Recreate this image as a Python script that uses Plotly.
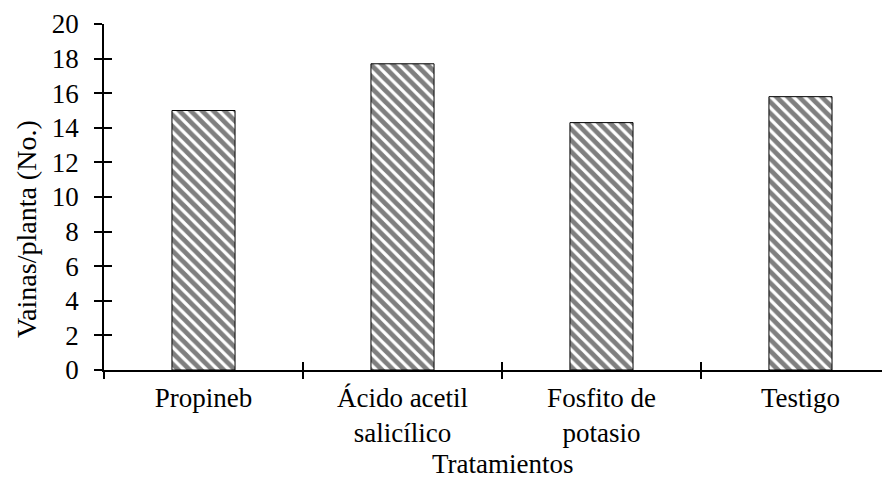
import plotly.graph_objects as go

categories = ["Propineb", "Ácido acetil<br>salicílico", "Fosfito de<br>potasio", "Testigo"]
values = [15.0, 17.7, 14.3, 15.8]
y_ticks = [0, 2, 4, 6, 8, 10, 12, 14, 16, 18, 20]
x_boundaries = [-0.5, 0.5, 1.5, 2.5]

FONT = "Liberation Serif"
FS = 27

# page body has an 8px margin; plot area placed accordingly
L, T, B = 96, 16, 122
PW = 890 - L
PH = 484 - T - B

def px_x(x):
    return (x - 8 - L) / PW

def px_y(y):
    return (484 - B - (y - 8)) / PH

fig = go.Figure()
fig.add_trace(go.Bar(
    x=categories, y=values, width=0.317,
    marker=dict(color="white",
                line=dict(color="black", width=1),
                pattern=dict(shape="\\", fgcolor="black", bgcolor="white", size=8, solidity=0.6)),
    showlegend=False, hoverinfo="skip",
))
fig.add_trace(go.Scatter(x=[], y=[], xaxis="x2", yaxis="y2", showlegend=False))

fig.update_layout(
    width=890, height=484,
    margin=dict(l=L, r=0, t=T, b=B),
    paper_bgcolor="white", plot_bgcolor="white",
    font=dict(family=FONT, size=FS, color="black"),
    xaxis=dict(
        type="category", range=[-0.5, 3.49], tickson="boundaries",
        ticks="outside", ticklen=7, tickwidth=1.5, tickcolor="black",
        showline=True, linecolor="black", linewidth=1.5,
        showgrid=False, zeroline=False, ticklabelstandoff=3,
        tickfont=dict(family=FONT, size=FS, color="black"),
    ),
    yaxis=dict(
        range=[0, 20], tickvals=y_ticks,
        ticks="outside", ticklen=8, tickwidth=1.5, tickcolor="black",
        showline=True, linecolor="black", linewidth=1.5,
        showgrid=False, zeroline=False, ticklabelstandoff=10,
        tickfont=dict(family=FONT, size=FS, color="black"),
    ),
    xaxis2=dict(
        overlaying="x", anchor="y2", range=[-0.5, 3.49], tickvals=x_boundaries,
        ticks="inside", ticklen=8, tickwidth=1.5, tickcolor="black",
        showticklabels=False, showline=False, showgrid=False, zeroline=False,
    ),
    yaxis2=dict(
        overlaying="y", anchor="x2", range=[0, 20], tickvals=y_ticks,
        ticks="inside", ticklen=8, tickwidth=1.5, tickcolor="black",
        showticklabels=False, showline=False, showgrid=False, zeroline=False,
    ),
    annotations=[
        dict(text="Tratamientos", xref="paper", yref="paper", x=px_x(503), y=px_y(464),
             xanchor="center", yanchor="middle", showarrow=False,
             font=dict(family=FONT, size=27, color="black")),
        dict(text="Vainas/planta (No.)", xref="paper", yref="paper", x=px_x(27), y=px_y(229),
             xanchor="center", yanchor="middle", textangle=-90, showarrow=False,
             font=dict(family=FONT, size=28, color="black")),
    ],
)

fig.write_html("out.html")
